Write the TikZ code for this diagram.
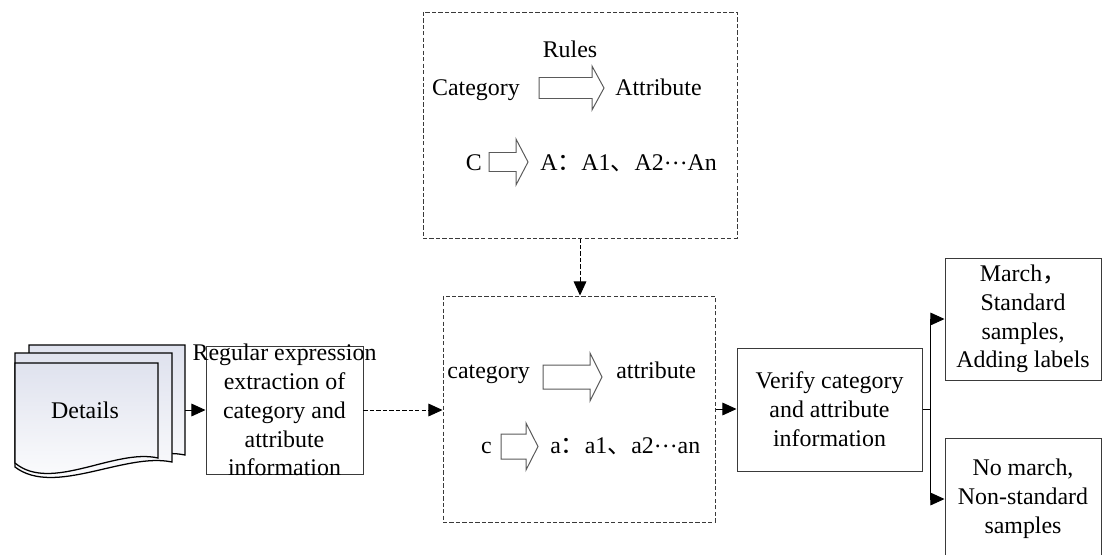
\documentclass[tikz,border=0pt]{standalone}
\usepackage{fontspec}
\setmainfont{Liberation Serif}
\newfontfamily\cjk{Noto Sans CJK SC}
\usetikzlibrary{arrows.meta}
\definecolor{edgegray}{HTML}{3A3A3A}
\definecolor{arrowgray}{HTML}{5A5A5A}
\definecolor{docblue}{HTML}{DFE2EE}
\newcommand{\px}{0.025cm}
\newcommand{\middots}{\raisebox{0.25em}{…}}
% hollow block arrow: x start, x tip, y middle, shaft half, head half
\newcommand{\fatarrow}[5]{%
  \draw[hollowarrow] (#1,#3-#4) -- (#2-12,#3-#4) -- (#2-12,#3-#5) -- (#2,#3)
    -- (#2-12,#3+#5) -- (#2-12,#3+#4) -- (#1,#3+#4) -- cycle;}
\tikzset{
  procbox/.style={draw=edgegray, line width=0.7pt, inner sep=0pt},
  dashbox/.style={procbox, dash pattern=on 3pt off 1.6pt},
  word/.style={inner sep=0pt},
  hollowarrow/.style={draw=arrowgray, line width=0.7pt, fill=white},
  flow/.style={draw=black, line width=0.7pt, -{Triangle[length=10pt,width=9pt]}},
  dashflow/.style={flow, dash pattern=on 3pt off 1.6pt}
}
\begin{document}
\begin{tikzpicture}[x=\px, y=-\px, font=\fontsize{17}{20.5}\selectfont]
   \useasboundingbox (0,0) rectangle (1109,554);
   % stack of detail pages
   \foreach \x/\y/\w/\h in {29/345/156/110, 15/353/157/109, 15/363/143/95}
     \path[draw=black, line width=0.9pt, top color=docblue, bottom color=white]
       (\x,\y) -- (\x+\w,\y) -- (\x+\w,\y+\h)
       .. controls (\x+0.7*\w,\y+\h-10) and (\x+0.25*\w,\y+\h+35) .. (\x,\y+\h+5) -- cycle;
   \node (details) at (85,410) {Details};
   \coordinate (docs-out) at (185,410);

   % boxes
   \node[dashbox, minimum width=314*\px, minimum height=226*\px] (rules) at (580,125) {};
   \node[dashbox, minimum width=272*\px, minimum height=226*\px] (mapping) at (579,409) {};
   \node[procbox, minimum width=157*\px, minimum height=128*\px] (regex) at (284.5,410) {};
   \node[align=center] (regex-txt) at (regex.center)
     {Regular expression\\extraction of\\category and\\attribute\\information};
   \node[procbox, align=center, minimum width=185*\px, minimum height=123*\px] (verify)
     at (829.5,409.5) {Verify category\\and attribute\\information};
   \node[procbox, align=center, minimum width=156*\px, minimum height=122*\px] (match)
     at (1023,319) {March{\cjk ，}\\Standard\\samples,\\Adding labels};
   \node[procbox, align=center, minimum width=156*\px, minimum height=122*\px] (nomatch)
     at (1023,499) {No march,\\Non-standard\\samples};

   % rule contents
   \node[word, anchor=base] (rules-lbl) at (570,57) {Rules};
   \node[word, anchor=base east] (cat-up) at (520,95) {Category};
   \node[word, anchor=base west] (attr-up) at (615,95) {Attribute};
   \node[word, anchor=base east] (c-up) at (482,170) {C};
   \node[word, anchor=base west] (a-up) at (540,170) {A{\cjk ：}A1{\cjk 、}A2\middots An};
   \fatarrow{539}{604}{88}{10.5}{22}
   \fatarrow{489}{528}{162}{9.5}{23}

   % extracted contents
   \node[word, anchor=base east] (cat-low) at (530,378) {category};
   \node[word, anchor=base west] (attr-low) at (616,378) {attribute};
   \node[word, anchor=base east] (c-low) at (492,453) {c};
   \node[word, anchor=base west] (a-low) at (550,453) {a{\cjk ：}a1{\cjk 、}a2\middots an};
   \fatarrow{543}{602}{377}{12}{24}
   \fatarrow{501}{538}{446.5}{12.5}{23.5}

   % connectors
   \draw[flow] (docs-out) -- (regex.west);
   \draw[dashflow] (regex.east) -- (regex.east -| mapping.west);
   \draw[dashflow] (rules.south) -- (rules.south |- mapping.north);
   \draw[flow] (mapping.east) -- (mapping.east -| verify.west);
   \draw[line width=0.7pt] (verify.east) -- ++(8,0) coordinate (split);
   \draw[flow] (split) |- (match.west);
   \draw[flow] (split) |- (nomatch.west);
\end{tikzpicture}
\end{document}
